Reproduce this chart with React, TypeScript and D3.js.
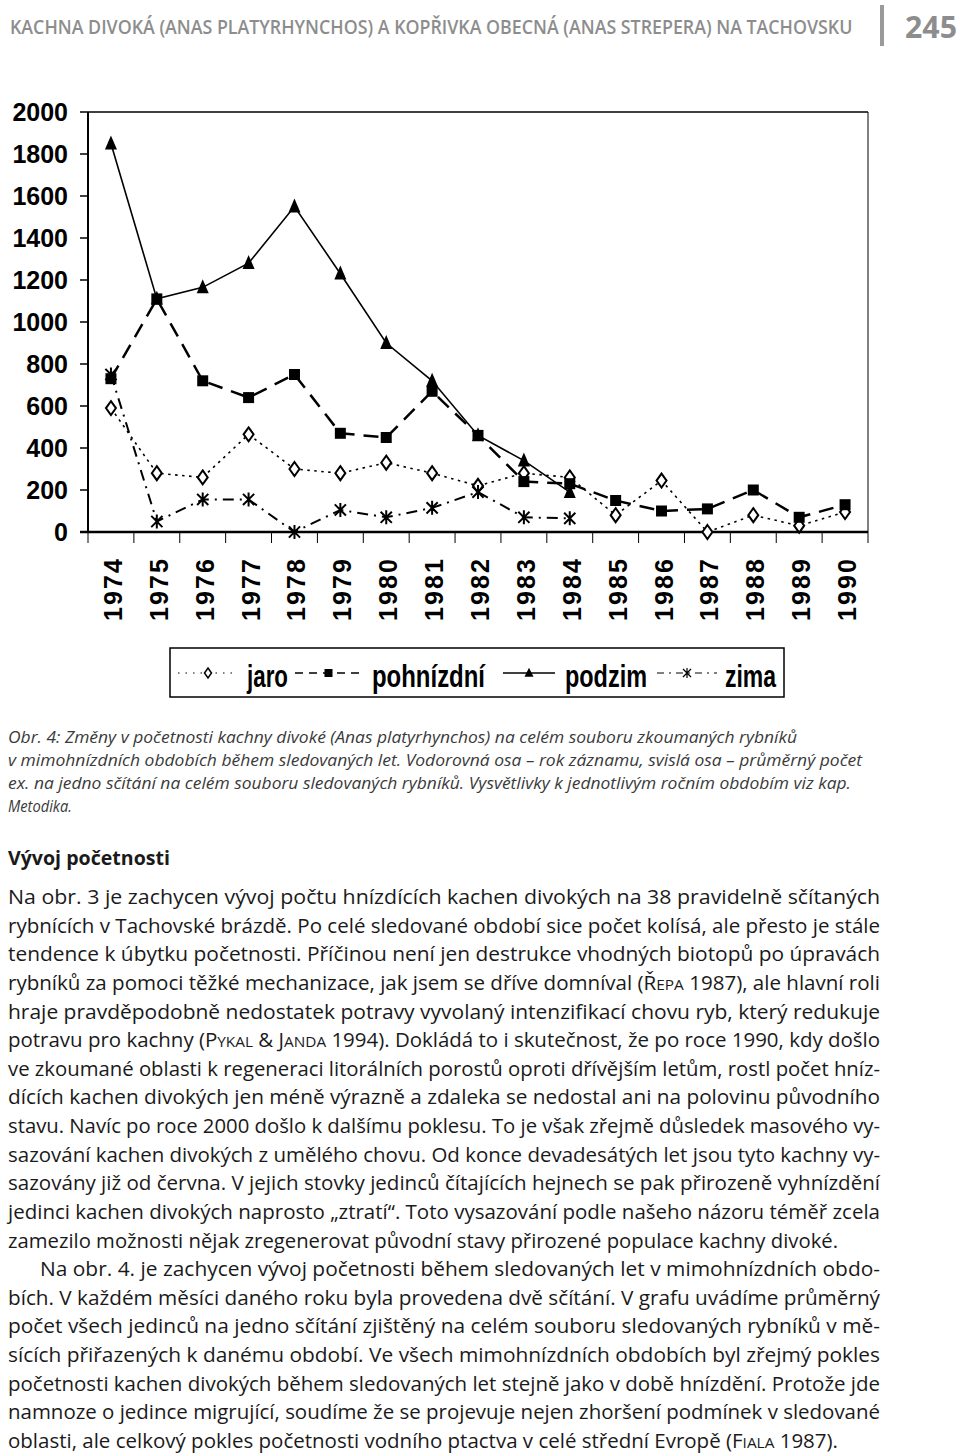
import React, { useEffect, useRef } from 'react';
import * as d3 from 'd3';

const years = ['1974', '1975', '1976', '1977', '1978', '1979', '1980', '1981', '1982', '1983', '1984', '1985', '1986', '1987', '1988', '1989', '1990'];
const jaro: (number | null)[] = [590, 280, 260, 465, 300, 280, 330, 280, 220, 280, 260, 80, 245, 0, 80, 30, 95];
const pohnizdni: (number | null)[] = [730, 1110, 720, 640, 750, 470, 450, 670, 460, 240, 230, 150, 100, 110, 200, 70, 130];
const podzim: (number | null)[] = [1850, 1110, 1165, 1280, 1550, 1230, 900, 720, 460, 340, 190, null, null, null, null, null, null];
const zima: (number | null)[] = [750, 50, 155, 155, 0, 105, 70, 115, 190, 70, 65, null, null, null, null, null, null];
const yTicks = [0, 200, 400, 600, 800, 1000, 1200, 1400, 1600, 1800, 2000];

const legendLabels = ['jaro', 'pohnízdní', 'podzim', 'zima'];

const headerText = 'KACHNA DIVOKÁ (ANAS PLATYRHYNCHOS) A KOPŘIVKA OBECNÁ (ANAS STREPERA) NA TACHOVSKU';
const pageNumber = '245';

const captionLines = [
  'Obr. 4: Změny v početnosti kachny divoké (Anas platyrhynchos) na celém souboru zkoumaných rybníků',
  'v mimohnízdních obdobích během sledovaných let. Vodorovná osa – rok záznamu, svislá osa – průměrný počet',
  'ex. na jedno sčítání na celém souboru sledovaných rybníků. Vysvětlivky k jednotlivým ročním obdobím viz kap.',
  'Metodika.',
];
const captionEnds = [797, 862, 851, 72];

const sectionTitle = 'Vývoj početnosti';

// {xyz} = small caps
const bodyLines = [
  'Na obr. 3 je zachycen vývoj počtu hnízdících kachen divokých na 38 pravidelně sčítaných',
  'rybnících v Tachovské brázdě. Po celé sledované období sice počet kolísá, ale přesto je stále',
  'tendence k úbytku početnosti. Příčinou není jen destrukce vhodných biotopů po úpravách',
  'rybníků za pomoci těžké mechanizace, jak jsem se dříve domníval (Ř{EPA} 1987), ale hlavní roli',
  'hraje pravděpodobně nedostatek potravy vyvolaný intenzifikací chovu ryb, který redukuje',
  'potravu pro kachny (P{YKAL} & J{ANDA} 1994). Dokládá to i skutečnost, že po roce 1990, kdy došlo',
  've zkoumané oblasti k regeneraci litorálních porostů oproti dřívějším letům, rostl počet hníz-',
  'dících kachen divokých jen méně výrazně a zdaleka se nedostal ani na polovinu původního',
  'stavu. Navíc po roce 2000 došlo k dalšímu poklesu. To je však zřejmě důsledek masového vy-',
  'sazování kachen divokých z umělého chovu. Od konce devadesátých let jsou tyto kachny vy-',
  'sazovány již od června. V jejich stovky jedinců čítajících hejnech se pak přirozeně vyhnízdění',
  'jedinci kachen divokých naprosto „ztratí“. Toto vysazování podle našeho názoru téměř zcela',
  'zamezilo možnosti nějak zregenerovat původní stavy přirozené populace kachny divoké.',
  'Na obr. 4. je zachycen vývoj početnosti během sledovaných let v mimohnízdních obdo-',
  'bích. V každém měsíci daného roku byla provedena dvě sčítání. V grafu uvádíme průměrný',
  'počet všech jedinců na jedno sčítání zjištěný na celém souboru sledovaných rybníků v mě-',
  'sících přiřazených k danému období. Ve všech mimohnízdních obdobích byl zřejmý pokles',
  'početnosti kachen divokých během sledovaných let stejně jako v době hnízdění. Protože jde',
  'namnoze o jedince migrující, soudíme že se projevuje nejen zhoršení podmínek v sledované',
  'oblasti, ale celkový pokles početnosti vodního ptactva v celé střední Evropě (F{IALA} 1987).',
];
const bodyStarts = [8, 8, 8, 8, 8, 8, 8, 8, 8, 8, 8, 8, 8, 40, 8, 8, 8, 8, 8, 8];
const bodyEnds = [880, 880, 880, 880, 880, 880, 880, 880, 880, 880, 880, 880, 838, 880, 880, 880, 880, 880, 880, 838];

const W = 960;
const H = 1456;

const diamond = (w: number, h: number) => `M0,${-h / 2}L${w / 2},0L0,${h / 2}L${-w / 2},0Z`;
const square = (s: number) => `M${-s / 2},${-s / 2}H${s / 2}V${s / 2}H${-s / 2}Z`;
const triangle = (w: number, h: number) => `M0,${-h * 0.58}L${w / 2},${h * 0.42}L${-w / 2},${h * 0.42}Z`;
const asterisk = (r: number) =>
  `M${-r * 0.8},${-r * 0.8}L${r * 0.8},${r * 0.8}M${-r * 0.8},${r * 0.8}L${r * 0.8},${-r * 0.8}M0,${-r}L0,${r}`;

const App: React.FC = () => {
  const svgRef = useRef<SVGSVGElement>(null);

  useEffect(() => {
    if (!svgRef.current) return;
    const svg = d3.select(svgRef.current);
    svg.selectAll('*').remove();

    const plot = { left: 88, right: 868, top: 112, bottom: 532 };

    const x = d3.scaleBand().domain(years).range([plot.left, plot.right]);
    const xc = (i: number) => (x(years[i]) as number) + x.bandwidth() / 2;
    const y = d3.scaleLinear().domain([0, 2000]).range([plot.bottom, plot.top]);

    const chartFont = '"Liberation Sans", Arial, sans-serif';

    // header: squeeze horizontally to the printed width
    const header = svg.append('text')
      .attr('x', 0).attr('y', 0)
      .style('font-family', '"Open Sans", sans-serif')
      .style('font-size', '20px').style('font-weight', 600)
      .attr('fill', '#8d8d8d')
      .text(headerText);
    const hw = (header.node() as SVGTextElement).getComputedTextLength() || 843;
    header.attr('transform', `translate(10,34) scale(${843 / hw},1)`);

    svg.append('rect').attr('x', 880).attr('y', 5).attr('width', 4).attr('height', 41).attr('fill', '#9a9a9a');
    const pn = svg.append('text')
      .attr('x', 0).attr('y', 0)
      .style('font-family', '"Open Sans", sans-serif')
      .style('font-size', '31px').style('font-weight', 700)
      .attr('fill', '#8d8d8d')
      .text(pageNumber);
    const pw = (pn.node() as SVGTextElement).getComputedTextLength() || 52;
    pn.attr('transform', `translate(905,38) scale(${52 / pw},1)`);

    // frame
    const frame = svg.append('g').attr('stroke', '#000').attr('fill', 'none');
    frame.append('line').attr('x1', plot.left).attr('x2', plot.right).attr('y1', plot.top).attr('y2', plot.top).attr('stroke-width', 1.5);
    frame.append('line').attr('x1', plot.right).attr('x2', plot.right).attr('y1', plot.top).attr('y2', plot.bottom).attr('stroke-width', 1);
    frame.append('line').attr('x1', plot.left).attr('x2', plot.left).attr('y1', plot.top).attr('y2', plot.bottom).attr('stroke-width', 2);

    // y axis
    const yAxis = svg.append('g');
    yTicks.forEach(t => {
      yAxis.append('line')
        .attr('x1', plot.left - 8).attr('x2', plot.left)
        .attr('y1', y(t)).attr('y2', y(t))
        .attr('stroke', '#000').attr('stroke-width', 1.5);
      yAxis.append('text')
        .attr('x', 68).attr('y', y(t)).attr('dy', '0.36em')
        .attr('text-anchor', 'end')
        .style('font-family', chartFont).style('font-size', '25px').style('font-weight', 700)
        .text(String(t));
    });

    // x axis
    const xAxis = svg.append('g');
    xAxis.append('line')
      .attr('x1', plot.left - 8).attr('x2', plot.right)
      .attr('y1', plot.bottom).attr('y2', plot.bottom)
      .attr('stroke', '#000').attr('stroke-width', 2.5);
    d3.range(years.length + 1).forEach(i => {
      const bx = plot.left + i * x.bandwidth();
      xAxis.append('line')
        .attr('x1', bx).attr('x2', bx)
        .attr('y1', plot.bottom).attr('y2', plot.bottom + 11)
        .attr('stroke', '#000').attr('stroke-width', 1);
    });
    years.forEach((yr, i) => {
      const cx = xc(i) + 2;
      xAxis.append('text')
        .attr('transform', `translate(${cx},621) rotate(-90)`)
        .attr('dy', '0.36em')
        .attr('text-anchor', 'start')
        .attr('textLength', 62).attr('lengthAdjust', 'spacing')
        .style('font-family', chartFont).style('font-size', '25px').style('font-weight', 700)
        .text(yr);
    });

    const line = d3.line<number | null>()
      .defined(d => d != null)
      .x((_, i) => xc(i))
      .y(d => y(d as number));

    const series = [
      { data: jaro, dash: '2.5,4.5', width: 1.6, marker: diamond(10, 14), fill: '#fff', stroke: 2 },
      { data: pohnizdni, dash: '15,9', width: 2.5, marker: square(11), fill: '#000', stroke: 0 },
      { data: podzim, dash: null, width: 1.6, marker: triangle(12, 14), fill: '#000', stroke: 0 },
      { data: zima, dash: '11,6,2,6', width: 2, marker: asterisk(7), fill: 'none', stroke: 2 },
    ];

    series.forEach(s => {
      const p = svg.append('path')
        .attr('d', line(s.data))
        .attr('fill', 'none')
        .attr('stroke', '#000')
        .attr('stroke-width', s.width);
      if (s.dash) p.attr('stroke-dasharray', s.dash);
    });

    series.forEach(s => {
      svg.append('g')
        .selectAll('path')
        .data(s.data.map((v, i) => ({ v, i })).filter(d => d.v != null))
        .enter()
        .append('path')
        .attr('transform', d => `translate(${xc(d.i)},${y(d.v as number)})`)
        .attr('d', s.marker)
        .attr('fill', s.fill)
        .attr('stroke', s.stroke ? '#000' : 'none')
        .attr('stroke-width', s.stroke);
    });

    // legend
    const lg = svg.append('g');
    lg.append('rect')
      .attr('x', 170).attr('y', 648).attr('width', 614).attr('height', 49)
      .attr('fill', 'none').attr('stroke', '#000').attr('stroke-width', 1.5);
    const ly = 673;
    const legendItems = [
      { x1: 178, x2: 238, dash: '1.5,6', width: 1, marker: diamond(7, 10), fill: '#fff', stroke: 1.5, tx: 247, tw: 41 },
      { x1: 295, x2: 362, dash: '8,6', width: 1.5, marker: square(8), fill: '#000', stroke: 0, tx: 372, tw: 113 },
      { x1: 503, x2: 555, dash: null, width: 1.5, marker: triangle(9, 9), fill: '#000', stroke: 0, tx: 565, tw: 82 },
      { x1: 657, x2: 717, dash: '7,5,2,5', width: 1, marker: asterisk(5), fill: 'none', stroke: 1.2, tx: 725, tw: 51 },
    ];
    legendItems.forEach((it, i) => {
      const l = lg.append('line')
        .attr('x1', it.x1).attr('x2', it.x2).attr('y1', ly).attr('y2', ly)
        .attr('stroke', '#000').attr('stroke-width', it.width);
      if (it.dash) l.attr('stroke-dasharray', it.dash);
      lg.append('path')
        .attr('transform', `translate(${(it.x1 + it.x2) / 2},${ly})`)
        .attr('d', it.marker)
        .attr('fill', it.fill)
        .attr('stroke', it.stroke ? '#000' : 'none')
        .attr('stroke-width', it.stroke);
      lg.append('text')
        .attr('x', it.tx).attr('y', 687)
        .attr('textLength', it.tw).attr('lengthAdjust', 'spacingAndGlyphs')
        .style('font-family', chartFont).style('font-size', '31px').style('font-weight', 700)
        .text(legendLabels[i]);
    });

    // caption
    captionLines.forEach((t, i) => {
      svg.append('text')
        .attr('x', 8).attr('y', 743 + i * 23)
        .attr('textLength', captionEnds[i] - 8).attr('lengthAdjust', 'spacingAndGlyphs')
        .style('font-family', '"Open Sans", sans-serif')
        .style('font-size', '17px').style('font-style', 'italic')
        .attr('fill', '#3a3a3a')
        .text(t);
    });

    svg.append('text')
      .attr('x', 8).attr('y', 865)
      .attr('textLength', 162).attr('lengthAdjust', 'spacingAndGlyphs')
      .style('font-family', '"Open Sans", sans-serif')
      .style('font-size', '20px').style('font-weight', 700)
      .attr('fill', '#1a1a1a')
      .text(sectionTitle);

    bodyLines.forEach((t, i) => {
      const txt = svg.append('text')
        .attr('x', bodyStarts[i]).attr('y', 904 + i * 28.63)
        .attr('textLength', bodyEnds[i] - bodyStarts[i]).attr('lengthAdjust', 'spacingAndGlyphs')
        .style('font-family', '"Open Sans", sans-serif')
        .style('font-size', '20px')
        .attr('fill', '#1a1a1a');
      t.split(/(\{[^}]+\})/).forEach(part => {
        if (!part) return;
        if (part.startsWith('{')) {
          txt.append('tspan').style('font-size', '15px').text(part.slice(1, -1));
        } else {
          txt.append('tspan').text(part);
        }
      });
    });
  }, []);

  return (
    <svg
      ref={svgRef}
      width={W}
      height={H}
      style={{ position: 'absolute', left: 0, top: 0, background: '#fff' }}
    />
  );
};

export default App;
